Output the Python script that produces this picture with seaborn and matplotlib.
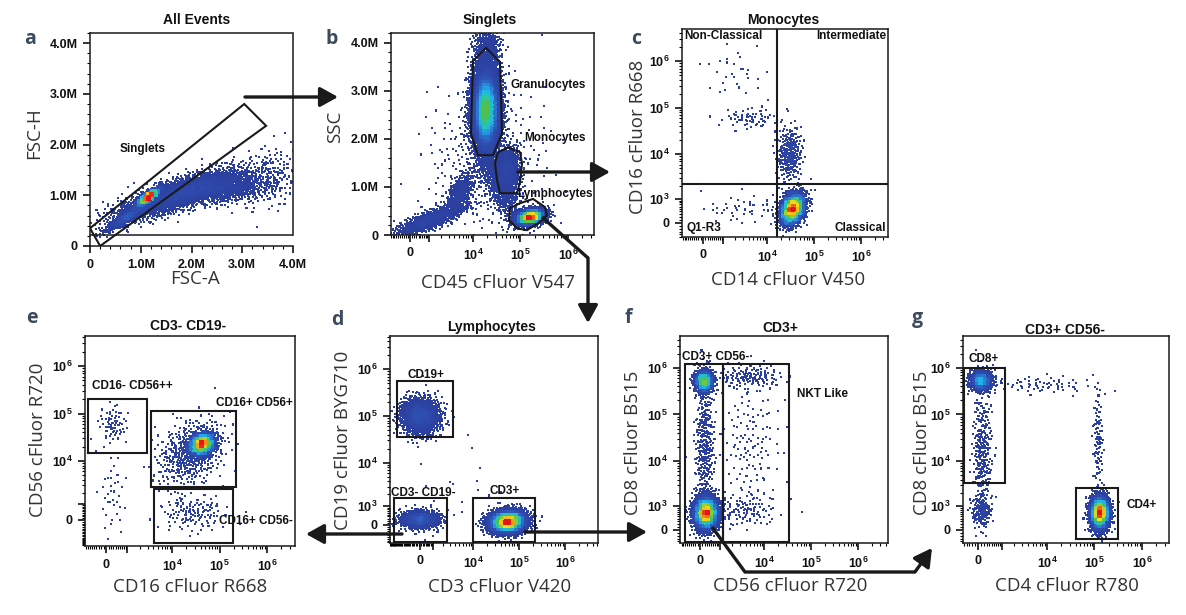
import numpy as np
import pandas as pd
import seaborn as sns
import matplotlib
import matplotlib.pyplot as plt
from matplotlib.colors import LinearSegmentedColormap
from matplotlib.patches import FancyArrowPatch
from matplotlib.lines import Line2D

# ---------------- data ----------------
# populations: (x centre, y centre, x spread, y spread, correlation, events)
# spreads are in decades on biex axes, in millions on linear axes
pops_a = [(1.15e6, 0.97e6, 0.12, 0.09, 0.85, 1300),
          (1.7e6, 1.0e6, 0.6, 0.25, 0.8, 2300),
          (2.6e6, 1.15e6, 0.45, 0.15, 0.3, 1000),
          (3.5e6, 1.35e6, 0.35, 0.3, 0.2, 200),
          (0.7e6, 0.55e6, 0.2, 0.13, 0.9, 500)]
pops_b = [(1.88e4, 2.6e6, 0.14, 0.45, 0.0, 10000),
          (2.0e4, 3.9e6, 0.15, 0.3, 0.0, 400),
          (5.5e4, 1.39e6, 0.12, 0.22, 0.0, 700),
          (1.6e5, 0.37e6, 0.15, 0.08, 0.3, 3000),
          (1070, 0.31e6, 0.35, 0.16, 0.8, 900),
          (5300, 0.87e6, 0.15, 0.22, 0.6, 400),
          (3.85e4, 1.05e6, 0.2, 0.35, -0.6, 700),
          (2.0e4, 1.5e6, 0.6, 0.8, 0.0, 400)]
pops_c = [(3.5e4, 500, 0.14, 0.18, 0.3, 1500),
          (3.0e4, 1.0e4, 0.14, 0.3, 0.0, 250),
          (4300, 6.0e4, 0.3, 0.12, 0.0, 60),
          (2000, 5.5e5, 0.35, 0.3, 0.0, 30),
          (3000, 500, 0.45, 0.15, 0.0, 45)]
pops_d = [(0, 1.0e5, 0.22, 0.2, 0.0, 1300),
          (0, 250, 0.22, 0.1, 0.0, 800),
          (5.7e4, 150, 0.2, 0.12, 0.1, 3500),
          (5000, 2000, 0.6, 0.5, 0.0, 20)]
pops_e = [(4.3e4, 2.3e4, 0.14, 0.12, 0.2, 1100),
          (2.5e4, 1.5e4, 0.35, 0.35, 0.3, 500),
          (280, 6.0e4, 0.15, 0.2, 0.0, 70),
          (2.8e4, 400, 0.35, 0.2, 0.0, 130),
          (280, 2000, 0.15, 0.5, 0.0, 40)]
pops_f = [(260, 630, 0.13, 0.18, 0.0, 2500),
          (170, 5.2e5, 0.1, 0.12, 0.0, 900),
          (200, 2.0e4, 0.1, 0.8, 0.0, 350),
          (5000, 6.5e5, 0.35, 0.13, 0.0, 130),
          (3900, 800, 0.35, 0.18, 0.0, 110),
          (5000, 2.5e4, 0.35, 0.7, 0.0, 130)]
pops_g = [(100, 5.3e5, 0.12, 0.11, 0.0, 800),
          (150, 1.5e4, 0.1, 0.7, 0.0, 300),
          (120, 700, 0.1, 0.15, 0.0, 150),
          (1.3e5, 640, 0.1, 0.18, 0.0, 2500),
          (7000, 4.3e5, 0.6, 0.1, 0.0, 70),
          (1.2e5, 2.5e4, 0.05, 0.55, 0.0, 100)]

# gates
gate_a = [(0, 0.35e6), (3.04e6, 2.80e6), (3.47e6, 2.37e6), (0.2e6, 0)]
gate_gran = [(1.0e4, 3.62e6), (1.88e4, 3.89e6), (3.71e4, 3.60e6), (4.09e4, 2.11e6),
             (2.64e4, 1.66e6), (1.27e4, 1.66e6), (9.07e3, 2.11e6)]
gate_mono = [(2.91e4, 1.49e6), (3.37e4, 1.72e6), (5.46e4, 1.82e6), (9.78e4, 1.72e6),
             (1.08e5, 1.49e6), (9.78e4, 1.10e6), (8.46e4, 0.87e6), (3.71e4, 0.87e6),
             (3.21e4, 1.14e6)]
gate_lymph = [(6.02e4, 0.56e6), (9.78e4, 0.66e6), (1.84e5, 0.75e6), (3.29e5, 0.58e6),
              (3.62e5, 0.41e6), (2.58e5, 0.27e6), (1.37e5, 0.10e6), (8.46e4, 0.14e6),
              (5.74e4, 0.31e6)]
quad_c = (1.63e4, 2260)
rects_d = [(-2010, 3560, 3.56e4, 5.6e5), (-2400, 2545, -871, 1630), (1.0e4, 2.24e5, -871, 1630)]
rects_e = [(-805, 2920, 1.48e4, 2.03e5), (3570, 2.22e5, 2730, 1.135e5), (4150, 1.93e5, -1565, 2455)]
rects_f = [(-699, 1200, -440, 1.21e6), (1200, 3.4e4, -440, 1.21e6)]
rects_g = [(-517, 1216, 3380, 1.0e6), (4.09e4, 3.14e5, -308, 2620)]

lin_ticks = [0, 1e6, 2e6, 3e6, 4e6]
lin_labels = ['0', '1.0M', '2.0M', '3.0M', '4.0M']

# ---------------- style ----------------
W, H = 1186, 615
plt.rcParams['font.family'] = ['Liberation Sans', 'DejaVu Sans']
plt.rcParams['mathtext.fontset'] = 'custom'
plt.rcParams['mathtext.rm'] = 'Liberation Sans'
plt.rcParams['mathtext.bf'] = 'Liberation Sans:bold'
plt.rcParams['axes.linewidth'] = 1.1

cmap = LinearSegmentedColormap.from_list('flow', [(0.0, '#2b3d9c'), (0.14, '#2f4fb2'),
                                                  (0.26, '#2a7fd6'), (0.36, '#1fb6ea'),
                                                  (0.46, '#2cc6a0'), (0.56, '#4cbf4c'),
                                                  (0.66, '#9ccf2e'), (0.76, '#f5e11a'),
                                                  (0.87, '#f99a14'), (1.0, '#e3141a')])
LN10 = np.log(10)
fig = plt.figure(figsize=(W / 100, H / 100), dpi=100)


def to_s(v, w):
    v = np.asarray(v, dtype=float)
    return np.arcsinh(v / w) / LN10 if w else v / 1e6


def from_s(s, w):
    return w * np.sinh(s * LN10) if w else s * 1e6


seq_start = [30]


def halton(idx, base):
    out = np.zeros(len(idx))
    f = 1.0
    i = idx.copy()
    while np.any(i > 0):
        f /= base
        out += f * (i % base)
        i //= base
    return out


def events(pops, wx, wy):
    xs, ys = [], []
    for cx, cy, sx, sy, rho, n in pops:
        idx = np.arange(seq_start[0], seq_start[0] + n)
        seq_start[0] += n
        u1 = halton(idx, 2)
        u2 = halton(idx, 3)
        r = np.sqrt(-2 * np.log(u1))
        z1, z2 = r * np.cos(2 * np.pi * u2), r * np.sin(2 * np.pi * u2)
        xs.append(to_s(cx, wx) + sx * z1)
        ys.append(to_s(cy, wy) + sy * (rho * z1 + np.sqrt(1 - rho ** 2) * z2))
    return np.concatenate(xs), np.concatenate(ys)


def make_ax(l, t, r, b):
    return fig.add_axes([l / W, 1 - b / H, (r - l) / W, (b - t) / H])


def bi_ticks(axis, w, labeled, lim):
    majors = [0, 1e3, 1e4, 1e5, 1e6]
    labels = ['0'] + [r'$\mathbf{10^{%d}}$' % k if k in labeled else '' for k in (3, 4, 5, 6)]
    minors = [m * 100 for m in range(-30, 10) if m != 0]
    minors += [m * 10 ** k for k in (3, 4, 5, 6) for m in range(2, 10)]
    minors = [m for m in minors if lim[0] <= m <= lim[1]]
    axis.set_ticks(majors, labels)
    axis.set_ticks(minors, minor=True)


def panel(rect, pops, wx, wy, xlim, ylim, xlab=(4, 5, 6), ylab=(3, 4, 5, 6)):
    ax = make_ax(*rect)
    if wx:
        ax.set_xscale('asinh', linear_width=wx)
    if wy:
        ax.set_yscale('asinh', linear_width=wy)
    xs, ys = events(pops, wx, wy)
    sxl, syl = to_s(xlim, wx), to_s(ylim, wy)
    cnt, ex, ey = np.histogram2d(xs, ys, bins=64, range=[sxl, syl])
    ix = np.clip(np.searchsorted(ex, xs) - 1, 0, 63)
    iy = np.clip(np.searchsorted(ey, ys) - 1, 0, 63)
    dens = (cnt[ix, iy] / cnt.max()) ** 1.25
    df = pd.DataFrame({'x': from_s(xs, wx), 'y': from_s(ys, wy), 'dens': dens}).sort_values('dens')
    sns.scatterplot(data=df, x='x', y='y', hue='dens', palette=cmap, hue_norm=(0, 1),
                    s=2.2, marker='s', linewidth=0, legend=False, ax=ax, rasterized=True)
    ax.set_xlim(xlim)
    ax.set_ylim(ylim)
    ax.set_xlabel('')
    ax.set_ylabel('')
    if wx:
        bi_ticks(ax.xaxis, wx, xlab, xlim)
    else:
        ax.set_xticks(lin_ticks, lin_labels)
        ax.set_xticks(np.arange(0, 4.01e6, 0.2e6), minor=True)
    if wy:
        bi_ticks(ax.yaxis, wy, ylab, ylim)
    else:
        ax.set_yticks(lin_ticks, lin_labels)
        ax.set_yticks(np.arange(0, 4.21e6, 0.2e6), minor=True)
    ax.tick_params(which='major', length=5, width=1.2, labelsize=9, pad=4, colors='#111')
    ax.tick_params(which='minor', length=2.5, width=0.8)
    plt.setp(ax.get_xticklabels() + ax.get_yticklabels(), fontweight='bold')
    for sp in ax.spines.values():
        sp.set_color('#1a1a1a')
    return ax


def gate(ax, pts):
    xs = [p[0] for p in pts] + [pts[0][0]]
    ys = [p[1] for p in pts] + [pts[0][1]]
    ax.plot(xs, ys, color='#1a1a1a', lw=1.5, solid_joinstyle='miter')


def rect_gate(ax, r):
    x0, x1, y0, y1 = r
    gate(ax, [(x0, y0), (x1, y0), (x1, y1), (x0, y1)])


def ftxt(x, y, s, size=8.5, weight='bold', color='#111', ha='center', rot=0, family=None):
    kw = dict(fontsize=size, fontweight=weight, color=color, ha=ha, va='center', rotation=rot)
    if family:
        kw['family'] = family
    fig.text(x / W, 1 - y / H, s, **kw)


def arrow(pts):
    fp = [(x / W, 1 - y / H) for x, y in pts]
    if len(fp) > 2:
        fig.add_artist(Line2D([p[0] for p in fp[:-1]], [p[1] for p in fp[:-1]],
                              transform=fig.transFigure, color='#1a1a1a', lw=2.4,
                              solid_joinstyle='miter', solid_capstyle='butt'))
    fig.add_artist(FancyArrowPatch(fp[-2], fp[-1], transform=fig.transFigure,
                                   arrowstyle='-|>,head_length=0.45,head_width=0.25',
                                   mutation_scale=24, color='#1a1a1a', lw=2.4,
                                   shrinkA=0, shrinkB=0))


# ---------------- panels ----------------
ax_a = panel((90, 33, 293, 246), pops_a, None, None, (0, 4.0e6), (0, 4.18e6))
ax_a.plot([0, 4.0e6], [0.216e6, 0.216e6], color='#1a1a1a', lw=1.1)
ax_a.spines['right'].set_bounds(0.216e6, 4.18e6)
gate(ax_a, gate_a)

ax_b = panel((391, 33, 594, 235), pops_b, 945, None, (-1000, 3.54e6), (0, 4.18e6))
for g in (gate_gran, gate_mono, gate_lymph):
    gate(ax_b, g)

ax_c = panel((682, 29, 888, 237), pops_c, 870, 668, (-1063, 3.75e6), (-507, 4.97e6))
ax_c.axvline(quad_c[0], color='#1a1a1a', lw=1.5)
ax_c.axhline(quad_c[1], color='#1a1a1a', lw=1.5)

ax_d = panel((390, 336, 598, 543), pops_d, 1414, 928, (-3010, 5.24e6), (-939, 5.17e6))
for r in rects_d:
    rect_gate(ax_d, r)

ax_e = panel((85, 336, 295, 546), pops_e, 816, 1150, (-985, 3.88e6), (-1865, 4.3e6), ylab=(4, 5, 6))
for r in rects_e:
    rect_gate(ax_e, r)

ax_f = panel((680, 336, 888, 543), pops_f, 870, 672, (-996, 4.35e6), (-461, 4.8e6))
for r in rects_f:
    rect_gate(ax_f, r)

ax_g = panel((963, 336, 1169, 543), pops_g, 707, 672, (-561, 3.71e6), (-461, 4.8e6))
for r in rects_g:
    rect_gate(ax_g, r)

# ---------------- text ----------------
for x, y, s in [(197, 20, 'All Events'), (490, 20, 'Singlets'), (783, 20, 'Monocytes'),
                (492, 327, 'Lymphocytes'), (188, 326, 'CD3- CD19-'), (780, 328, 'CD3+'),
                (1065, 330, 'CD3+ CD56-')]:
    ftxt(x, y, s, size=10)

for x, y, s in [(30, 39, 'a'), (332, 39, 'b'), (636, 39, 'c'), (337, 320, 'd'),
                (32, 318, 'e'), (628, 318, 'f'), (917, 318, 'g')]:
    ftxt(x, y, s, size=14, color='#3b4a5c', family='Open Sans')

ax_lab = dict(size=13.5, weight='normal', color='#333333', family='Open Sans')
for x, y, s in [(195, 279, 'FSC-A'), (498, 283, 'CD45 cFluor V547'), (788, 280, 'CD14 cFluor V450'),
                (500, 587, 'CD3 cFluor V420'), (190, 587, 'CD16 cFluor R668'),
                (790, 586, 'CD56 cFluor R720'), (1067, 586, 'CD4 cFluor R780')]:
    ftxt(x, y, s, **ax_lab)
for x, y, s in [(34, 133, 'FSC-H'), (335, 127, 'SSC'), (638, 137, 'CD16 cFluor R668'),
                (343, 440, 'CD19 cFluor BYG710'), (38, 440, 'CD56 cFluor R720'),
                (633, 443, 'CD8 cFluor B515'), (922, 443, 'CD8 cFluor B515')]:
    ftxt(x, y, s, rot=90, **ax_lab)

for x, y, s in [(143, 149, 'Singlets'), (548, 85, 'Granulocytes'), (555, 138, 'Monocytes'),
                (555, 194, 'Lymphocytes'), (723, 36, 'Non-Classical'), (704, 228, 'Q1-R3'),
                (426, 375, 'CD19+'), (423, 493, 'CD3- CD19-'), (505, 491, 'CD3+'),
                (132, 386, 'CD16- CD56++'), (254, 403, 'CD16+ CD56+'), (256, 521, 'CD16+ CD56-'),
                (716, 357, 'CD3+ CD56-'), (822, 394, 'NKT Like'), (984, 359, 'CD8+'),
                (1142, 505, 'CD4+')]:
    ftxt(x, y, s)
ftxt(886, 36, 'Intermediate', ha='right')
ftxt(886, 228, 'Classical', ha='right')

# ---------------- arrows between panels ----------------
arrow([(245, 97), (338, 97)])
arrow([(518, 172), (610, 172)])
arrow([(542, 217), (588, 258), (588, 323)])
arrow([(402, 534), (306, 534)])
arrow([(525, 532), (647, 532)])
arrow([(712, 527), (745, 572), (915, 572), (932, 548)])

fig.savefig('out.png', dpi=100)
